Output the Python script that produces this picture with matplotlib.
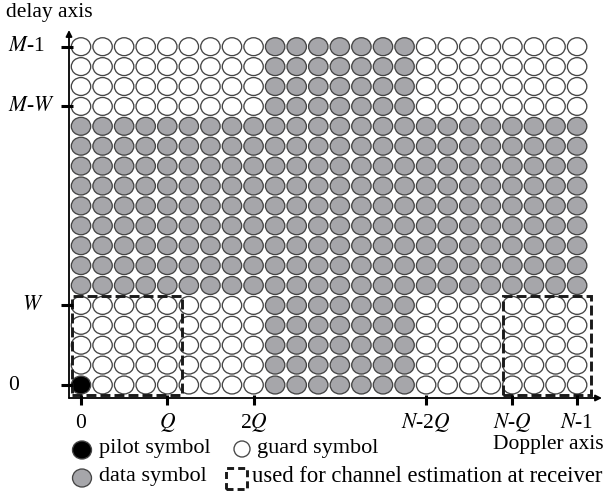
import numpy as np
import matplotlib
matplotlib.use('Agg')
import matplotlib.pyplot as plt
from matplotlib.patches import Ellipse, Rectangle

plt.rcParams['font.family'] = 'serif'
plt.rcParams['font.serif'] = ['Liberation Serif', 'DejaVu Serif']
plt.rcParams['mathtext.fontset'] = 'stix'

# ---- data ----
N = 24          # Doppler bins
M = 18          # delay bins
Q = 4
W = 4
pilot_pos = (0, 0)
x_ticks = [0, Q, 2 * Q, N - 2 * Q, N - Q, N - 1]
x_tick_labels = ['0', '$Q$', '2$Q$', '$N$-2$Q$', '$N$-$Q$', '$N$-1']
y_ticks = [0, W, M - W, M - 1]
y_tick_labels = ['0', '$W$', '$M$-$W$', '$M$-1']
boxes = [(0, Q), (N - Q, N - 1)]   # Doppler ranges used for channel estimation (delay 0..W)

data_color = '#a6a6aa'
edge_color = '#454545'

# ---- layout (pixel mapping) ----
FW, FH = 606, 496
SX, SY = 21.57, 19.9
OX, OY = 81, 385


def D(px, py):
    return ((px - OX) / SX, (OY - py) / SY)


fig = plt.figure(figsize=(FW / 100, FH / 100), dpi=100)
ax = fig.add_axes([0, 0, 1, 1])
ax.set_xlim(D(0, 0)[0], D(FW, 0)[0])
ax.set_ylim(D(0, FH)[1], D(0, 0)[1])
ax.axis('off')

ew, eh = 0.9, 0.9
for k in range(N):
    for l in range(M):
        guard = (l <= W or l >= M - W) and (k <= 2 * Q or k >= N - 2 * Q)
        if (k, l) == pilot_pos:
            fc = 'black'
        elif guard:
            fc = 'white'
        else:
            fc = data_color
        ax.add_patch(Ellipse((k, l), ew, eh, facecolor=fc, edgecolor=edge_color, lw=0.95))

# axes with arrows
org = D(69, 398)
ax.annotate('', xy=D(602, 398), xytext=org,
            arrowprops=dict(arrowstyle='-|>', lw=1.3, color='k', mutation_scale=9,
                            shrinkA=0, shrinkB=0))
ax.annotate('', xy=D(69, 30), xytext=org,
            arrowprops=dict(arrowstyle='-|>', lw=1.3, color='k', mutation_scale=9,
                            shrinkA=0, shrinkB=0))

FS = 15.5
# ticks
for t, lab in zip(x_ticks, x_tick_labels):
    ax.plot([t, t], [D(0, 395)[1], D(0, 405)[1]], color='k', lw=2.2, solid_capstyle='butt')
    ax.text(t, D(0, 423)[1], lab, ha='center', va='center', fontsize=FS)
for t, lab in zip(y_ticks, y_tick_labels):
    ax.plot([D(61, 0)[0], D(73, 0)[0]], [t, t], color='k', lw=2.2, solid_capstyle='butt')
    xl = D(22, 0)[0] if lab == '$W$' else D(8, 0)[0]
    ax.text(xl, t, lab, ha='left', va='center', fontsize=FS)

# dashed boxes
for a, b in boxes:
    x0 = a - 0.42
    x1 = b + 0.66
    y0 = D(0, 395)[1]
    y1 = D(0, 296)[1]
    ax.add_patch(Rectangle((x0, y0), x1 - x0, y1 - y0, fill=False, edgecolor='#1a1a1a',
                           lw=2.1, ls=(0, (3.4, 1.4))))

# axis names
ax.text(*D(6, 13), 'delay axis', ha='left', va='center', fontsize=FS)
ax.text(*D(604, 445), 'Doppler axis', ha='right', va='center', fontsize=FS)

# legend
def legend_circle(px, py, fc, w=19, h=18):
    c = D(px, py)
    ax.add_patch(Ellipse(c, w / SX, h / SY, facecolor=fc, edgecolor=edge_color, lw=0.95))

FL = 16
legend_circle(82, 450, 'black')
ax.text(*D(99, 449), 'pilot symbol', ha='left', va='center', fontsize=FL)
legend_circle(242, 449, 'white', 16, 16)
ax.text(*D(257, 449), 'guard symbol', ha='left', va='center', fontsize=FL)
legend_circle(82, 478, data_color)
ax.text(*D(99, 477), 'data symbol', ha='left', va='center', fontsize=FL)
p0 = D(226, 489)
p1 = D(247, 468)
ax.add_patch(Rectangle(p0, p1[0] - p0[0], p1[1] - p0[1], fill=False, edgecolor='#1a1a1a',
                       lw=2.1, ls=(0, (2.4, 1.4))))
ax.text(*D(252, 477), 'used for channel estimation at receiver', ha='left', va='center',
        fontsize=16.3)

fig.savefig('out.png', dpi=100)
